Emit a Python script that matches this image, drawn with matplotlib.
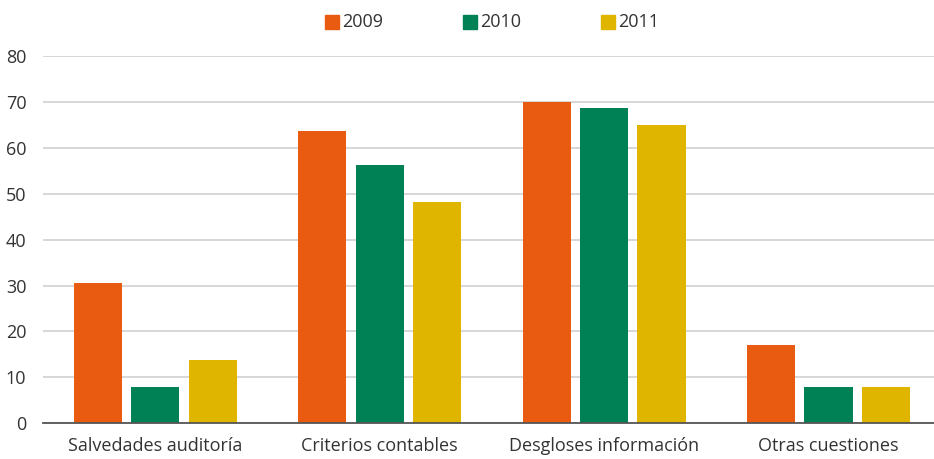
import matplotlib
matplotlib.use("Agg")
import matplotlib.pyplot as plt
from matplotlib.patches import Rectangle
import numpy as np

categories = ["Salvedades auditoría", "Criterios contables", "Desgloses información", "Otras cuestiones"]
years = ["2009", "2010", "2011"]
values_2009 = [30.6, 63.7, 70.0, 17.0]
values_2010 = [8.0, 56.3, 68.7, 8.0]
values_2011 = [13.7, 48.1, 65.0, 8.0]
yticks = [0, 10, 20, 30, 40, 50, 60, 70, 80]

colors = ["#E85B10", "#008055", "#E0B500"]
series = [values_2009, values_2010, values_2011]

plt.rcParams["font.family"] = ["Open Sans", "DejaVu Sans"]

W, H = 934, 459
fig = plt.figure(figsize=(W / 100, H / 100), dpi=100)
ax = fig.add_axes([43 / W, (H - 423.3) / H, 1 - 43 / W, (423.3 - 56) / H])

x = np.arange(len(categories))
offset = 0.256
width = 0.215
for i, (vals, col) in enumerate(zip(series, colors)):
    ax.bar(x + (i - 1) * offset, vals, width=width, color=col, zorder=3)

ax.set_xlim(-0.5, 3.47)
ax.set_ylim(0, 80)
ax.set_yticks(yticks)
ax.set_yticklabels([str(t) for t in yticks])
ax.set_xticks(x)
ax.set_xticklabels(categories)
ax.grid(axis="y", color="#d4d4d4", linewidth=1.3, zorder=0)
ax.set_axisbelow(True)
for s in ["top", "right", "left"]:
    ax.spines[s].set_visible(False)
ax.spines["bottom"].set_color("#555555")
ax.spines["bottom"].set_linewidth(1.3)
ax.spines["bottom"].set_zorder(4)
ax.tick_params(axis="both", length=0, labelsize=13, labelcolor="#333333")
ax.tick_params(axis="y", pad=12)
ax.tick_params(axis="x", pad=10)

# legend row across the top
leg_x = [325, 463, 601]
for lx, yr, col in zip(leg_x, years, colors):
    fig.patches.append(Rectangle((lx / W, (H - 29) / H), 14 / W, 14 / H,
                                 transform=fig.transFigure, color=col, figure=fig))
    fig.text((lx + 17) / W, (H - 22) / H, yr, fontsize=13, color="#333333",
             va="center", ha="left")

fig.savefig("out.png", dpi=100)
